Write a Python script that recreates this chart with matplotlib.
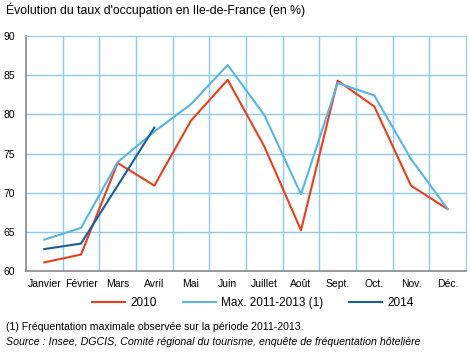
import numpy as np
import matplotlib
matplotlib.use('Agg')
import matplotlib.pyplot as plt

plt.rcParams['font.family'] = ['Liberation Sans', 'DejaVu Sans']

# months
mois = ['Janvier', 'Février', 'Mars', 'Avril', 'Mai', 'Juin', 'Juillet',
        'Août', 'Sept.', 'Oct.', 'Nov.', 'Déc.']

# occupation rates (%)
taux_2010 = [61.1, 62.1, 73.8, 70.9, 79.2, 84.4, 75.9, 65.2, 84.3, 81.0, 70.9, 67.9]
taux_max = [64.0, 65.5, 73.9, 77.8, 81.3, 86.3, 79.9, 69.8, 84.0, 82.4, 74.3, 67.9]
taux_2014 = [62.8, 63.5, 70.9, 78.3]

c_red = '#e8401c'
c_light = '#5ab4e5'
c_dark = '#1b5d9c'
c_grid = '#8ccbef'

fig = plt.figure(figsize=(4.7, 3.52), dpi=100)
ax = fig.add_axes([26/470, 1-271/352, 440/470, 235/352])

x = np.arange(len(mois))
ax.plot(x, taux_2010, color=c_red, lw=1.5, label='2010')
ax.plot(x, taux_max, color=c_light, lw=1.5, label='Max. 2011-2013 (1)')
ax.plot(x[:len(taux_2014)], taux_2014, color=c_dark, lw=1.5, label='2014')

ax.set_xlim(-0.5, 11.5)
ax.set_ylim(60, 90)
ax.set_yticks(np.arange(60, 91, 5))
ax.set_xticks(x)
ax.set_xticklabels(mois)
# vertical grid at category boundaries
for b in np.arange(0.5, 11.5, 1):
    ax.axvline(b, color=c_grid, lw=1, zorder=0)
for yv in range(65, 90, 5):
    ax.axhline(yv, color=c_grid, lw=1, zorder=0)

ax.tick_params(axis='both', length=0, labelsize=7.5, pad=6)
ax.tick_params(axis='y', pad=8)
for s in ['top', 'right']:
    ax.spines[s].set_color(c_grid)
for s in ['left', 'bottom']:
    ax.spines[s].set_color('#888888')
    ax.spines[s].set_linewidth(1.2)

leg = ax.legend(loc='center', bbox_to_anchor=(253/470, 1-303/352),
                bbox_transform=fig.transFigure, ncol=3,
                frameon=False, fontsize=8.5, handlelength=2.8, columnspacing=2.2,
                handletextpad=0.45, borderpad=0)

fig.text(6/470, 1-10/352, "Évolution du taux d'occupation en Ile-de-France (en %)",
         fontsize=8.8, va='center', ha='left')
fig.text(6/470, 1-327/352, "(1) Fréquentation maximale observée sur la période 2011-2013.",
         fontsize=7.6, va='center', ha='left')
fig.text(6/470, 1-342/352, "Source : Insee, DGCIS, Comité régional du tourisme, enquête de fréquentation hôtelière",
         fontsize=7.7, va='center', ha='left', style='italic')

fig.savefig('out.png', dpi=100)
